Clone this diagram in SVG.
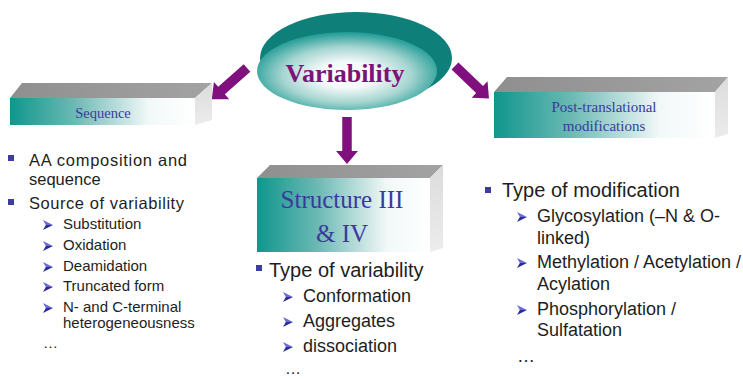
<svg xmlns="http://www.w3.org/2000/svg" xmlns:xlink="http://www.w3.org/1999/xlink" width="743" height="379" viewBox="0 0 743 379">
  <defs>
    <linearGradient id="faceGrad" x1="0" y1="0" x2="1" y2="0">
      <stop offset="0" stop-color="#10968d"/>
      <stop offset="0.35" stop-color="#6cb9b4"/>
      <stop offset="0.75" stop-color="#f2f8f8"/>
      <stop offset="1" stop-color="#ffffff"/>
    </linearGradient>
    <linearGradient id="topGrad" x1="0" y1="0" x2="1" y2="0">
      <stop offset="0" stop-color="#8f8f8f"/>
      <stop offset="1" stop-color="#a3a3a3"/>
    </linearGradient>
    <linearGradient id="sideGrad" x1="0" y1="0" x2="0" y2="1">
      <stop offset="0" stop-color="#dcdcdc"/>
      <stop offset="1" stop-color="#ececec"/>
    </linearGradient>
    <radialGradient id="discGrad" cx="0.5" cy="0.55" r="0.55">
      <stop offset="0" stop-color="#ffffff"/>
      <stop offset="0.3" stop-color="#f4fafa"/>
      <stop offset="0.65" stop-color="#a6d5d1"/>
      <stop offset="1" stop-color="#1d9a93"/>
    </radialGradient>
    <!-- arrowhead bullet -->
    <g id="tick">
      <polygon points="0,-5 10,0 2.8,0" fill="#6a6ad8"/>
      <polygon points="0,5 10,0 2.8,0" fill="#2c2c96"/>
    </g>
    <!-- block arrow pointing along +x, tail at origin -->
    <polygon id="bigArrow" points="0,-5 34,-5 34,-11.5 47,0 34,11.5 34,5 0,5"/>
  </defs>
  <style>
    .face { fill: url(#faceGrad); }
    .top { fill: url(#topGrad); }
    .side { fill: url(#sideGrad); }
    .boxlbl { font-family: "Liberation Serif", "Times New Roman", serif; fill: #3a3a9c; text-anchor: middle; }
    .sq { fill: #3d3d9e; }
    .txt { font-family: "Liberation Sans", Arial, sans-serif; fill: #1e1e1e; }
    .arrow { fill: #80107e; }
  </style>

  <rect width="743" height="379" fill="#ffffff"/>

  <!-- central disc -->
  <g id="node-variability">
    <ellipse cx="356" cy="58" rx="96" ry="46" fill="#0f7f79"/>
    <ellipse cx="347" cy="71" rx="90" ry="39" fill="url(#discGrad)"/>
    <text x="345" y="82" text-anchor="middle" font-family="Liberation Serif, 'Times New Roman', serif" font-weight="bold" font-size="26" fill="#7a1478">Variability</text>
  </g>

  <!-- connectors -->
  <g id="connectors">
    <use xlink:href="#bigArrow" class="arrow" transform="translate(247,68) rotate(138.5)"/>
    <use xlink:href="#bigArrow" class="arrow" transform="translate(455,66) rotate(43.7)"/>
    <use xlink:href="#bigArrow" class="arrow" transform="translate(347,117) rotate(90) scale(1,0.95)"/>
  </g>

  <!-- Sequence block -->
  <g id="node-sequence">
    <polygon class="top" points="10,98 22,83 212,83 195,98"/>
    <polygon class="side" points="195,98 212,83 212,120 195,125"/>
    <rect class="face" x="10" y="98" width="185" height="27"/>
    <text class="boxlbl" x="103" y="118" font-size="14.5">Sequence</text>
  </g>

  <!-- Structure III & IV block -->
  <g id="node-structure">
    <polygon class="top" points="257,178 270,165 443,165 430,178"/>
    <polygon class="side" points="430,178 443,165 443,248 430,252"/>
    <rect class="face" x="257" y="178" width="173" height="74"/>
    <text class="boxlbl" x="342" y="208" font-size="25">Structure III</text>
    <text class="boxlbl" x="342" y="242" font-size="25">&amp; IV</text>
  </g>

  <!-- Post-translational modifications block -->
  <g id="node-ptm">
    <polygon class="top" points="494,92 507,77 728,77 715,92"/>
    <polygon class="side" points="715,92 728,77 728,134 715,138"/>
    <rect class="face" x="494" y="92" width="221" height="46"/>
    <text class="boxlbl" x="604" y="112" font-size="15">Post-translational</text>
    <text class="boxlbl" x="604" y="131" font-size="15">modifications</text>
  </g>

  <!-- sequence details -->
  <g id="list-sequence" class="txt">
    <rect class="sq" x="8" y="155" width="6" height="6"/>
    <text x="29" y="166" font-size="16.5" textLength="158" lengthAdjust="spacing">AA composition and</text>
    <text x="29" y="185" font-size="16.5">sequence</text>
    <rect class="sq" x="8" y="199" width="6" height="6"/>
    <text x="29" y="209" font-size="16.5" textLength="155" lengthAdjust="spacing">Source of variability</text>
    <use xlink:href="#tick" x="43" y="225"/>
    <text x="63" y="229" font-size="15">Substitution</text>
    <use xlink:href="#tick" x="43" y="246"/>
    <text x="63" y="250" font-size="15">Oxidation</text>
    <use xlink:href="#tick" x="43" y="267"/>
    <text x="63" y="271" font-size="15">Deamidation</text>
    <use xlink:href="#tick" x="43" y="287"/>
    <text x="63" y="291" font-size="15">Truncated form</text>
    <use xlink:href="#tick" x="43" y="308"/>
    <text x="63" y="312" font-size="15">N- and C-terminal</text>
    <text x="63" y="328" font-size="15">heterogeneousness</text>
    <text x="43" y="348" font-size="15">…</text>
  </g>

  <!-- structure details -->
  <g id="list-structure" class="txt">
    <rect class="sq" x="256" y="265" width="6" height="6"/>
    <text x="269" y="277" font-size="20">Type of variability</text>
    <use xlink:href="#tick" x="283" y="297"/>
    <text x="303" y="302" font-size="18">Conformation</text>
    <use xlink:href="#tick" x="283" y="322"/>
    <text x="303" y="327" font-size="18">Aggregates</text>
    <use xlink:href="#tick" x="283" y="347"/>
    <text x="303" y="352" font-size="18">dissociation</text>
    <text x="285" y="374" font-size="16">…</text>
  </g>

  <!-- modification details -->
  <g id="list-ptm" class="txt">
    <rect class="sq" x="485" y="187" width="6" height="6"/>
    <text x="502" y="197" font-size="20">Type of modification</text>
    <use xlink:href="#tick" x="517" y="217"/>
    <text x="537" y="222" font-size="18">Glycosylation (–N &amp; O-</text>
    <text x="537" y="244" font-size="18">linked)</text>
    <use xlink:href="#tick" x="517" y="263"/>
    <text x="537" y="268" font-size="18">Methylation / Acetylation /</text>
    <text x="537" y="290" font-size="18">Acylation</text>
    <use xlink:href="#tick" x="517" y="310"/>
    <text x="537" y="315" font-size="18">Phosphorylation /</text>
    <text x="537" y="336" font-size="18">Sulfatation</text>
    <text x="517" y="362" font-size="18">…</text>
  </g>
</svg>
